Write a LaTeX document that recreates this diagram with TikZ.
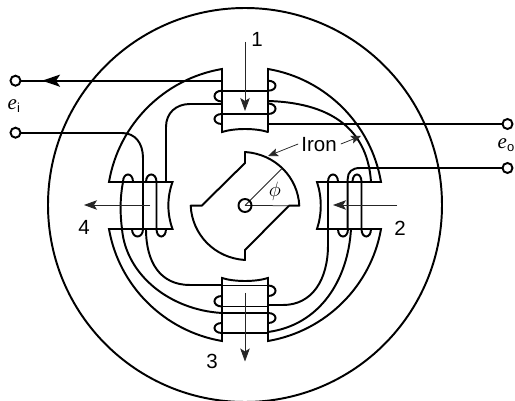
\documentclass[tikz,border=0pt]{standalone}
\usepackage{fontspec}
\setmainfont{Liberation Sans}
\newfontfamily\serifit[ItalicFont={Liberation Serif Italic}]{Liberation Serif}
\usetikzlibrary{arrows.meta}
\tikzset{
  wire/.style={line width=1.95pt,line cap=round,line join=miter},
  hair/.style={line width=0.75pt,draw=black!85},
  flux/.style={hair,-{Stealth[length=13pt,width=9.5pt,inset=3pt]}},
  small/.style={hair,-{Stealth[length=10pt,width=8pt,inset=2pt]}},
  term/.style={circle,draw,line width=1.95pt,fill=white,minimum size=10pt,inner sep=0pt},
  lab/.style={inner sep=0pt,font=\fontsize{20.5}{20.5}\selectfont},
  elab/.style={inner sep=0pt,anchor=base west,font=\fontsize{21}{21}\selectfont}
}
\begin{document}
\begin{tikzpicture}[x=1pt,y=-1pt]
\useasboundingbox (0,0) rectangle (515,401);
\fill[white] (0,0) rectangle (515,401);
% outer yoke
\draw[wire] (245,205) circle[radius=197pt];
% pole outlines
\draw[wire] (268,132) -- (268,69) .. controls (325.8,78.8) and (371.2,124.2) .. (381,182) -- (317,182)
  .. controls (322,197) and (322,214) .. (317,229) -- (381,229)
  .. controls (371.2,285.8) and (325.8,331.2) .. (268,341) -- (268,278)
  .. controls (255,282) and (235,282) .. (222,278) -- (222,341)
  .. controls (164.2,331.2) and (118.8,285.8) .. (109,229) -- (172.5,229)
  .. controls (167,214) and (167,197) .. (172.5,182) -- (109,182)
  .. controls (118.8,124.2) and (164.2,78.8) .. (222,69) -- (222,132)
  .. controls (235,128) and (255,128) .. (268,132);
% rotor
\draw[wire,line join=round] (245,152) .. controls (276,154) and (298,178) .. (299.3,205.7) -- (289,205.7) -- (245,250) -- (245,260)
  .. controls (214,258) and (192,234) .. (190.7,205.7) -- (201.7,205.7) -- (245,163) -- cycle;
\coordinate (phiend) at (282,168.5);
\coordinate (horiz) at (289,205.7);
\node[circle,line width=1.95pt,minimum size=13pt,inner sep=0pt] (shaft) at (245,205.5) {};
\draw[hair] (shaft.center) -- (phiend);
\draw[hair] (shaft.center) -- (horiz);
\node[circle,draw,line width=1.95pt,minimum size=13pt,inner sep=0pt] (shaftring) at (245,205.5) {};
% top pole windings
\draw[wire] (222,90.7) -- (268,90.7);
\draw[wire] (222,114) -- (268,114);
\draw[wire] (222,90.7) .. controls (212,90.7) and (212,101.5) .. (222,101.5);
\draw[wire] (222,114) .. controls (212,114) and (212,124) .. (222,124);
\draw[wire] (268,80.7) .. controls (278,80.7) and (278,90.7) .. (268,90.7);
\draw[wire] (268,103.5) .. controls (278,103.5) and (278,114) .. (268,114);
\draw[wire] (222,104) -- (190,104) .. controls (176,104) and (166,113) .. (166,127) -- (166,182);
\draw[wire] (268,101) .. controls (338,103) and (368,135) .. (371,182);
% left pole windings
\draw[wire] (133,182) .. controls (133,172) and (123,172) .. (123,182) .. controls (120,197) and (120,214) .. (122,229)
  .. controls (126,275) and (170,310) .. (222,313);
\draw[wire] (143,229) -- (143,158) .. controls (143,143) and (135,133) .. (122,133);
\draw[wire] (146,182) .. controls (146,172) and (156.5,172) .. (156.5,182) -- (156.5,229);
\draw[wire] (132,229) .. controls (132,239) and (143,239) .. (143,229);
\draw[wire] (156.5,229) .. controls (156.5,239) and (166,239) .. (166,229);
\draw[wire] (146,229) .. controls (146,262) and (160,285) .. (190,285) -- (222,285);
% bottom pole windings
\draw[wire] (222,285.5) -- (268,285.5);
\draw[wire] (222,306.5) -- (268,306.5);
\draw[wire] (222,313) -- (268,313);
\draw[wire] (222,333) -- (268,333);
\draw[wire] (222,296) .. controls (212,296) and (212,306.5) .. (222,306.5);
\draw[wire] (222,323) .. controls (212,323) and (212,333) .. (222,333);
\draw[wire] (268,285.5) .. controls (278,285.5) and (278,296) .. (268,296);
\draw[wire] (268,313) .. controls (278,313) and (278,323) .. (268,323);
\draw[wire] (268,305) -- (283,305) .. controls (312,305) and (328,280) .. (328,245) -- (328,229);
\draw[wire] (268,332) .. controls (320,325) and (348,280) .. (351,229);
% right pole windings
\draw[wire] (328,229) -- (328,182) .. controls (328,172) and (338,172) .. (338,182);
\draw[wire] (352.5,182) .. controls (352.5,172) and (361.5,172) .. (361.5,182) -- (361.5,229);
\draw[wire] (338,229) .. controls (338,239) and (348,239) .. (348,229);
\draw[wire] (361.5,229) .. controls (361.5,239) and (371,239) .. (371,229);
% terminals and leads
\node[term] (t1) at (15.5,80.7) {};
\node[term] (t2) at (15.5,132.7) {};
\node[term] (t3) at (507.5,124) {};
\node[term] (t4) at (507.5,168) {};
\coordinate (a1) at (222,80.7);
\coordinate (a2) at (122,132.7);
\coordinate (a3) at (268,124);
\coordinate (a4) at (360,168);
\draw[wire] (a1) -- (t1);
\draw[wire,-{Stealth[length=18pt,width=12pt,inset=4pt]}] (60,80.7) -- (42,80.7);
\draw[wire] (a2) -- (t2);
\draw[wire] (a3) -- (t3);
\draw[wire] (a4) -- (t4);
\draw[wire] (347.7,229) -- (347.7,179) .. controls (347.7,172) and (352,168) .. (360,168);
% flux arrows
\coordinate (f1a) at (245,42); \coordinate (f1b) at (245,111);
\coordinate (f2a) at (397,205); \coordinate (f2b) at (333,205);
\coordinate (f3a) at (245,293); \coordinate (f3b) at (245,361.5);
\coordinate (f4a) at (150,205); \coordinate (f4b) at (84,205);
\draw[flux] (f1a) -- (f1b);
\draw[flux] (f2a) -- (f2b);
\draw[flux] (f3a) -- (f3b);
\draw[flux] (f4a) -- (f4b);
% labels
\node[lab] (n1) at (257,39) {1};
\node[lab] (n2) at (400,228) {2};
\node[lab] (n3) at (212,361) {3};
\node[lab] (n4) at (84,227) {4};
\node[lab] (iron) at (319,145) {Iron};
\coordinate (ir1) at (268,156);
\coordinate (ir2) at (361,136);
\draw[small] (iron.west) ++(-3,-1) -- (ir1);
\draw[small] (iron.east) ++(4,-1) -- (ir2);
\node[inner sep=0pt,font=\fontsize{20}{20}\selectfont] (phi) at (275,191) {$\phi$};
\node[elab] (ei) at (7.5,110) {{\serifit\itshape e}\raisebox{-3pt}{\fontsize{13}{13}\selectfont i}};
\node[elab] (eo) at (497.5,149) {{\serifit\itshape e}\raisebox{-3pt}{\fontsize{13}{13}\selectfont o}};
\end{tikzpicture}
\end{document}
